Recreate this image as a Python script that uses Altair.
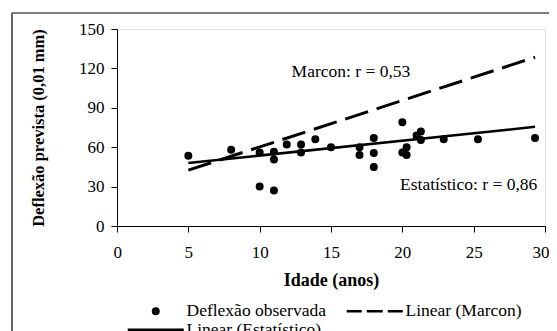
import altair as alt
import pandas as pd

FONT = "Liberation Serif"

# observed points (Idade, Deflexão)
idade = [5, 8, 10, 10, 11, 11, 11, 11.9, 12.9, 12.9, 13.9, 15, 17, 17, 18, 18, 18,
         20, 20, 20.3, 20.3, 21, 21.3, 21.3, 22.9, 25.3, 29.3]
deflexao = [53.5, 58, 56, 30, 56.5, 50.7, 27, 62, 62, 56, 66, 60, 60, 54, 67, 55.5, 45,
            79, 56, 60, 54, 69, 72, 65.5, 66, 66, 67]

# trend lines (endpoints)
est_x = [5, 29.3]
est_y = [48, 75.5]
mar_x = [5, 29.3]
mar_y = [42.5, 128.5]

x_ticks = [0, 5, 10, 15, 20, 25, 30]
y_ticks = [0, 30, 60, 90, 120, 150]

series = ["Deflexão observada", "Linear (Marcon)", "Linear (Estatístico)"]

annot_text = ["Marcon: r = 0,53", "Estatístico: r = 0,86"]
annot_x = [16.4, 24.65]
annot_y = [117, 31]

W, H = 428, 197

df_pts = pd.DataFrame({"idade": idade, "deflexao": deflexao, "serie": series[0]})
df_est = pd.DataFrame({"idade": est_x, "deflexao": est_y})
df_mar = pd.DataFrame({"idade": mar_x, "deflexao": mar_y})
df_txt = pd.DataFrame({"idade": annot_x, "deflexao": annot_y, "t": annot_text})

xs = alt.Scale(domain=[0, 30], nice=False, zero=False)
ys = alt.Scale(domain=[0, 150], nice=False)

xax = alt.Axis(values=x_ticks, title="Idade (anos)", grid=False, tickSize=6,
               labelPadding=12, titlePadding=11, domainColor="black", tickColor="black",
               labelColor="black", labelFont=FONT, labelFontSize=17,
               titleFont=FONT, titleFontSize=18, titleFontWeight="bold", titleColor="black",
               labelFlush=True, labelFlushOffset=4, labelOverlap=False)
yax = alt.Axis(values=y_ticks, title="Deflexão prevista (0,01 mm)", grid=False, tickSize=6,
               labelPadding=7, titlePadding=32, domainColor="black", tickColor="black",
               labelColor="black", labelFont=FONT, labelFontSize=17,
               titleFont=FONT, titleFontSize=16.5, titleFontWeight="bold", titleColor="black",
               labelOverlap=False)

X = alt.X("idade:Q", scale=xs, axis=xax)
Y = alt.Y("deflexao:Q", scale=ys, axis=yax)

# legend symbols: ring pair (reads as a dot), dashed and solid line samples
CIRC = ("M-0.55,0A0.55,0.55 0 1,1 0.55,0A0.55,0.55 0 1,1 -0.55,0Z"
        "M-0.2,0A0.2,0.2 0 1,1 0.2,0A0.2,0.2 0 1,1 -0.2,0Z")
DASH = "M-5.6,0L-2.6,0M-1.6,0L1.6,0M2.6,0L5.6,0"
SOLID = "M-5.6,0L5.6,0"

legend = alt.Legend(
    title=None, orient="none", legendX=8, legendY=273, columns=2, direction="horizontal",
    columnPadding=15, rowPadding=0, symbolSize=100, symbolOffset=22, labelOffset=22,
    labelFont=FONT, labelFontSize=17.5, labelColor="black", values=series,
    symbolStrokeWidth=2.5, symbolStrokeColor="black", symbolOpacity=1)

pts = alt.Chart(df_pts).mark_point(filled=False, size=100, color="black", stroke="black",
                                   strokeWidth=2.5, opacity=1).encode(
    x=X, y=Y,
    shape=alt.Shape("serie:N", sort=series,
                    scale=alt.Scale(domain=series, range=[CIRC, DASH, SOLID]),
                    legend=legend),
)

est = alt.Chart(df_est).mark_line(color="black", strokeWidth=2.5).encode(x=X, y=Y)
mar = alt.Chart(df_mar).mark_line(color="black", strokeWidth=3, strokeDash=[24, 9]).encode(
    x=X, y=Y)

txt = alt.Chart(df_txt).mark_text(align="center", baseline="middle", font=FONT,
                                  fontSize=17.5, color="black").encode(x=X, y=Y, text="t:N")

# outer chart-area frame (top and left edges; the rest falls outside the picture)
one = pd.DataFrame({"a": [0]})
frame_top = alt.Chart(one).mark_rule(color="black", strokeWidth=1.2).encode(
    x=alt.value(-105), x2=alt.value(W + 20), y=alt.value(-16))
frame_left = alt.Chart(one).mark_rule(color="black", strokeWidth=1.2).encode(
    x=alt.value(-105), y=alt.value(-16), y2=alt.value(H + 120))

chart = alt.layer(frame_top, frame_left, mar, est, pts, txt).properties(
    width=W, height=H,
    autosize=alt.AutoSizeParams(type="none"),
    padding={"left": 109, "top": 21, "right": 4, "bottom": 105},
).configure_view(stroke="black", strokeWidth=1).configure(background="white")

chart.save("out.html", embed_options={"renderer": "svg", "actions": False})
